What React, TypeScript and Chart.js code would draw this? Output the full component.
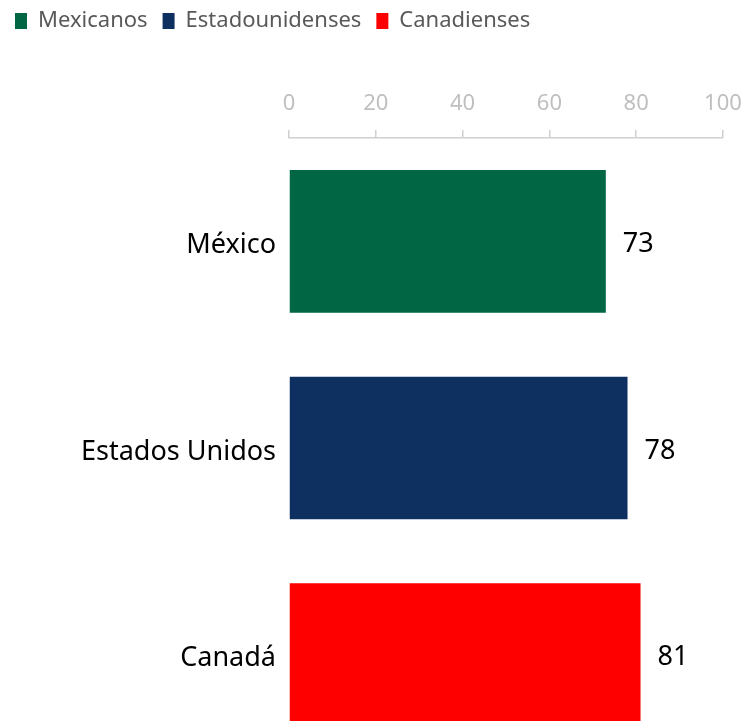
import React, { useEffect, useRef } from "react";
import { Chart, registerables } from "chart.js";

Chart.register(...registerables);

const categories = ["México", "Estados Unidos", "Canadá"];
const values = [73, 78, 81];
const legendLabels = ["Mexicanos", "Estadounidenses", "Canadienses"];
const colors = ["#006643", "#0d3061", "#ff0000"];
const xTicks = [0, 20, 40, 60, 80, 100];

const PAD_TOP = -5;
const AREA_TOP = 138;

const valueLabelPlugin = {
  id: "valueLabels",
  afterDatasetsDraw(chart: any) {
    const ctx = chart.ctx;
    const meta = chart.getDatasetMeta(0);
    ctx.save();
    ctx.font = "27px 'Noto Sans'";
    ctx.fillStyle = "#000000";
    ctx.textAlign = "left";
    ctx.textBaseline = "middle";
    meta.data.forEach((bar: any, i: number) => {
      ctx.fillText(String(values[i]), bar.x + 17, bar.y + 3);
    });
    ctx.restore();
  },
};

export default function App() {
  const ref = useRef<HTMLCanvasElement>(null);
  useEffect(() => {
    if (!ref.current) return;
    Chart.defaults.font.family = "'Noto Sans', sans-serif";
    const chart = new Chart(ref.current, {
      type: "bar",
      data: {
        labels: categories,
        datasets: [
          {
            data: values,
            backgroundColor: colors,
            borderWidth: 0,
            categoryPercentage: 1,
            barPercentage: 0.69,
          },
        ],
      },
      options: {
        animation: false,
        responsive: false,
        indexAxis: "y",
        layout: { padding: { left: 0, right: 25, top: PAD_TOP, bottom: 0 } },
        plugins: {
          tooltip: { enabled: false },
          legend: {
            display: true,
            position: "top",
            align: "start",
            labels: {
              boxWidth: 12,
              boxHeight: 16,
              padding: 15,
              color: "#595959",
              font: { size: 22 },
              generateLabels: () =>
                legendLabels.map((t, i) => ({
                  text: t,
                  fillStyle: colors[i],
                  strokeStyle: colors[i],
                  lineWidth: 0,
                  hidden: false,
                  index: i,
                  fontColor: "#595959",
                })),
            },
          },
        },
        scales: {
          x: {
            position: "top",
            min: 0,
            max: 100,
            afterBuildTicks: (scale: any) => {
              scale.ticks = xTicks.map((v) => ({ value: v }));
            },
            afterFit: (scale: any) => {
              const lh = scale.chart.legend ? scale.chart.legend.height : 0;
              scale.height = AREA_TOP - PAD_TOP - lh;
              scale.paddingLeft = 0;
              scale.paddingRight = 0;
            },
            ticks: {
              color: "#bfbfbf",
              font: { size: 22 },
              padding: 13,
            },
            grid: {
              drawOnChartArea: false,
              drawTicks: true,
              tickLength: 8,
              color: "#d0d0d0",
              lineWidth: 1.5,
            },
            border: { display: true, color: "#d0d0d0", width: 1.5 },
          },
          y: {
            afterFit: (scale: any) => {
              scale.width = 289;
              scale.paddingTop = 0;
              scale.paddingBottom = 0;
            },
            ticks: {
              color: "#000000",
              font: { size: 27 },
              padding: 13,
              labelOffset: 4,
            },
            grid: { display: false, drawTicks: false },
            border: { display: false },
          },
        },
      },
      plugins: [valueLabelPlugin],
    } as any);
    return () => chart.destroy();
  }, []);
  return (
    <div style={{ position: "fixed", left: 0, top: 0, width: 748, height: 758 }}>
      <canvas ref={ref} width={748} height={758} style={{ display: "block" }} />
    </div>
  );
}
